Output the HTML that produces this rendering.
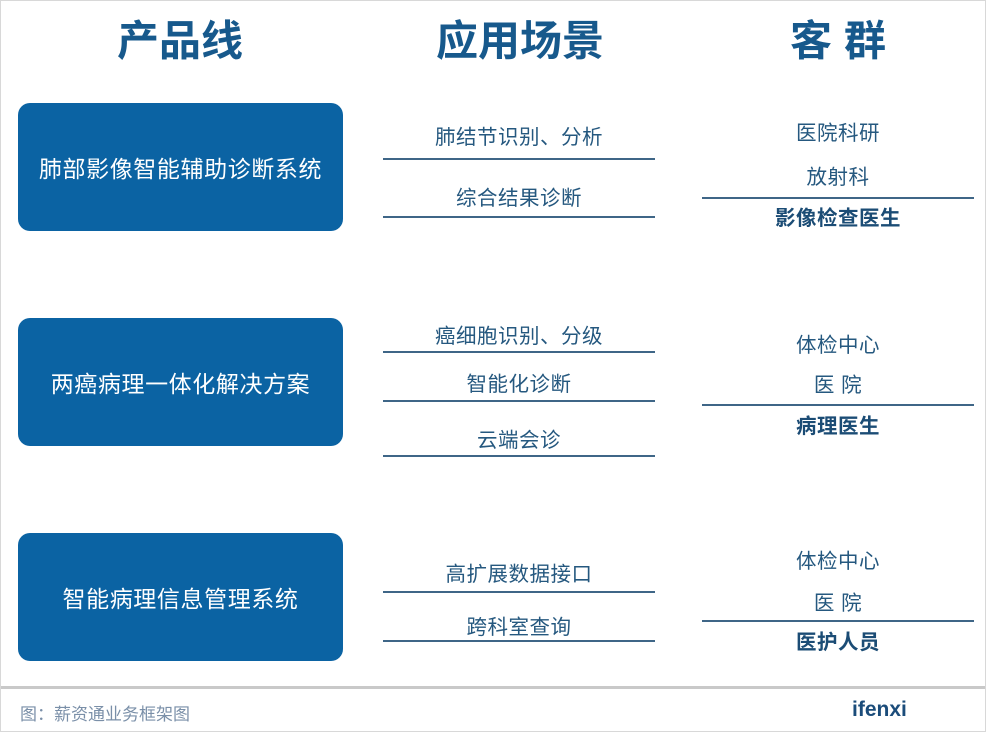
<!DOCTYPE html>
<html><head><meta charset="utf-8"><style>
body{margin:0;width:986px;height:732px;background:#fff;position:relative;overflow:hidden;font-family:"Liberation Sans","Noto Sans CJK SC",sans-serif;}
.frame{position:absolute;left:0;top:0;width:984px;height:730px;border:1px solid #d8d8d8;}
.t{position:absolute;transform:translate(-50%,-50%);white-space:nowrap;color:#1e5a86;}
.h{font-size:42px;font-weight:bold;color:#17598c;}
.box{position:absolute;left:18px;width:325px;height:128px;background:#0b63a3;border-radius:12px;color:#fff;font-size:23px;letter-spacing:0.6px;display:flex;align-items:center;justify-content:center;}
.m{font-size:20.5px;letter-spacing:0.5px;color:#25587f;}
.b{font-size:20.5px;letter-spacing:0.5px;font-weight:bold;color:#1b4c75;}
.l{position:absolute;height:2px;background:#3f6687;}
.ml{left:383px;width:272px;}
.rl{left:702px;width:272px;}
</style></head><body>
<div class="frame"></div>
<div class="t h" style="left:180px;top:38px">产品线</div>
<div class="t h" style="left:520px;top:38px">应用场景</div>
<div class="t h" style="left:838px;top:38px;letter-spacing:12px;padding-left:12px">客群</div>

<div class="box" style="top:103px">肺部影像智能辅助诊断系统</div>
<div class="box" style="top:318px">两癌病理一体化解决方案</div>
<div class="box" style="top:533px">智能病理信息管理系统</div>

<div class="t m" style="left:519px;top:135px">肺结节识别、分析</div>
<div class="l ml" style="top:158px"></div>
<div class="t m" style="left:519px;top:196px">综合结果诊断</div>
<div class="l ml" style="top:216px"></div>

<div class="t m" style="left:838px;top:131px">医院科研</div>
<div class="t m" style="left:838px;top:175px">放射科</div>
<div class="l rl" style="top:197px"></div>
<div class="t b" style="left:838px;top:216px">影像检查医生</div>

<div class="t m" style="left:519px;top:334px">癌细胞识别、分级</div>
<div class="l ml" style="top:351px"></div>
<div class="t m" style="left:519px;top:382px">智能化诊断</div>
<div class="l ml" style="top:400px"></div>
<div class="t m" style="left:519px;top:438px">云端会诊</div>
<div class="l ml" style="top:455px"></div>

<div class="t m" style="left:838px;top:343px">体检中心</div>
<div class="t m" style="left:838px;top:383px">医 院</div>
<div class="l rl" style="top:404px"></div>
<div class="t b" style="left:838px;top:424px">病理医生</div>

<div class="t m" style="left:519px;top:572px">高扩展数据接口</div>
<div class="l ml" style="top:591px"></div>
<div class="t m" style="left:519px;top:625px">跨科室查询</div>
<div class="l ml" style="top:640px"></div>

<div class="t m" style="left:838px;top:559px">体检中心</div>
<div class="t m" style="left:838px;top:601px">医 院</div>
<div class="l rl" style="top:620px"></div>
<div class="t b" style="left:838px;top:640px">医护人员</div>

<div style="position:absolute;left:1px;top:686px;width:984px;height:3px;background:#c9c9c9"></div>
<div style="position:absolute;left:20px;top:700px;font-size:17px;color:#7a8fa8">图：薪资通业务框架图</div>
<div style="position:absolute;left:852px;top:698px;font-size:21px;font-weight:bold;color:#1b4c7a">ifenxi</div>
</body></html>
